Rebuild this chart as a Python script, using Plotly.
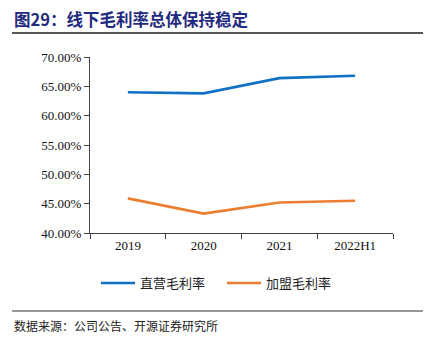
import plotly.graph_objects as go

# Gross margin by channel (%)
periods = ["2019", "2020", "2021", "2022H1"]
direct_margin = [64.0, 63.8, 66.4, 66.8]
franchise_margin = [45.9, 43.3, 45.2, 45.5]
series_names = ["直营毛利率", "加盟毛利率"]
series_colors = ["#1070C4", "#ED7D31"]
legend_ids = ["legend", "legend2"]

W, H = 442, 343
fig = go.Figure()
for name, vals, col, lg in zip(series_names, [direct_margin, franchise_margin],
                               series_colors, legend_ids):
    fig.add_trace(go.Scatter(x=periods, y=vals, name=name, mode="lines", legend=lg,
                             line=dict(color=col, width=2.6)))

serif = "Liberation Serif, Times New Roman, serif"
cjk = "Noto Sans CJK SC"

pw, ph = W - 139, H - 167
def px_x(x):
    return (x - 90) / pw
def px_y(y):
    return (233 - y) / ph

legend_style = dict(orientation="h", xanchor="left", y=px_y(283), yanchor="middle",
                    bgcolor="rgba(0,0,0,0)",
                    font=dict(family=cjk, size=13, color="#222222"), itemwidth=34)

fig.update_layout(
    width=W, height=H,
    margin=dict(l=90, r=49, t=57, b=110, autoexpand=False),
    paper_bgcolor="white", plot_bgcolor="white",
    showlegend=True,
    legend=dict(x=px_x(96), **legend_style),
    legend2=dict(x=px_x(222), **legend_style),
    xaxis=dict(type="category", range=[-0.5, 3.5], showline=True, linecolor="#404040",
               linewidth=1, ticks="outside", tickson="boundaries", ticklen=5,
               tickcolor="#404040", showgrid=False, zeroline=False,
               tickfont=dict(family=serif, size=13, color="#111111")),
    yaxis=dict(range=[40, 70], dtick=5, tickformat=".2f", ticksuffix="%",
               showline=True, linecolor="#404040", linewidth=1, ticks="outside",
               ticklen=5, tickcolor="#404040", showgrid=False, zeroline=False,
               tickfont=dict(family=serif, size=13, color="#111111")),
)

# Header and footer
fig.add_annotation(xref="paper", yref="paper", x=px_x(12), y=px_y(19),
                   xanchor="left", yanchor="middle", showarrow=False,
                   text="<b>图29：线下毛利率总体保持稳定</b>",
                   font=dict(family=cjk, size=16.5, color="#1F2A80"))
fig.add_annotation(xref="paper", yref="paper", x=px_x(12), y=px_y(325),
                   xanchor="left", yanchor="middle", showarrow=False,
                   text="数据来源：公司公告、开源证券研究所",
                   font=dict(family=cjk, size=12, color="#222222"))

fig.add_shape(type="line", xref="paper", yref="paper", x0=px_x(12), x1=px_x(423),
              y0=px_y(33), y1=px_y(33), line=dict(color="#555555", width=2))
fig.add_shape(type="line", xref="paper", yref="paper", x0=px_x(12), x1=px_x(423),
              y0=px_y(311), y1=px_y(311), line=dict(color="#333333", width=1.2))

fig.write_html("out.html")
